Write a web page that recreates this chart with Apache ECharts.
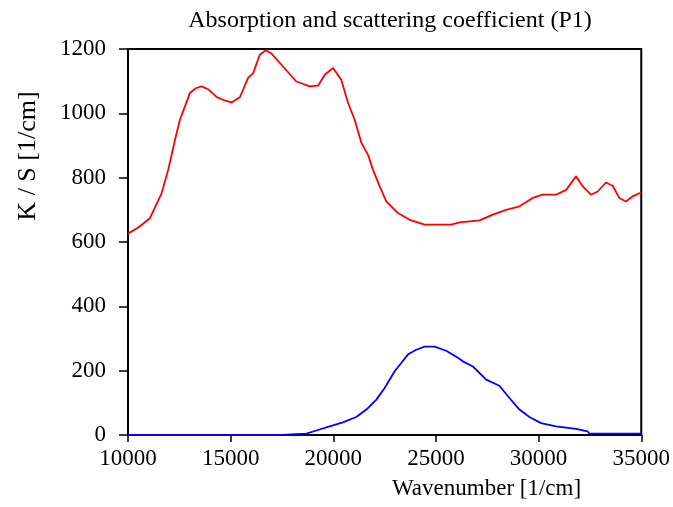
<!DOCTYPE html>
<html>
<head>
<meta charset="utf-8">
<script src="https://cdn.jsdelivr.net/npm/echarts@6/dist/echarts.min.js"></script>
<style>
html,body{margin:0;padding:0;background:#fff;}
#chart{width:673px;height:507px;}
</style>
</head>
<body>
<div id="chart"></div>
<script>
var titleText = 'Absorption and scattering coefficient (P1)';
var xAxisName = 'Wavenumber [1/cm]';
var yAxisName = 'K / S [1/cm]';
var xTicks = [10000, 15000, 20000, 25000, 30000, 35000];
var yTicks = [0, 200, 400, 600, 800, 1000, 1200];

// Scattering coefficient S (red)
var sWavenumber = [10000,10500,11070,11640,11960,12290,12530,12770,13015,13300,13580,13900,14310,14700,15040,15450,15850,16095,16420,16710,17000,17475,18200,18850,19260,19580,19990,20390,20720,21040,21370,21690,21930,22260,22580,23150,23720,24450,25740,26150,27120,27770,28420,29070,29710,30200,30850,31340,31820,32150,32550,32880,33280,33610,33930,34260,34580,35000];
var sValues = [626,645,674,752,825,918,980,1021,1063,1078,1084,1075,1051,1040,1034,1050,1110,1125,1182,1196,1185,1151,1099,1084,1086,1120,1141,1104,1032,980,908,871,825,773,726,690,669,654,654,661,667,685,700,711,737,747,747,762,804,773,747,757,785,775,737,726,742,754];

// Absorption coefficient K (blue)
var kWavenumber = [10000,17000,17470,17500,18690,19180,19820,20470,21120,21610,22100,22500,22990,23310,23630,24040,24450,24930,25500,26070,26310,26800,27450,28090,28580,29070,29550,30120,30850,31820,32390,32470,35000];
var kValues = [0,0,0,4,4,14,27,39,56,79,110,146,198,224,250,265,275,275,262,240,229,213,172,153,115,79,56,37,27,19,11,4,4];

function pairs(xs, ys){ return xs.map(function(x,i){ return [x, ys[i]]; }); }

var FONT = 'Liberation Serif';
var chart = echarts.init(document.getElementById('chart'), null, {renderer:'canvas'});
chart.setOption({
  animation:false,
  backgroundColor:'#fff',
  title:{text:titleText, left:385, top:4, textAlign:'center',
    textStyle:{fontFamily:FONT, fontSize:24, fontWeight:'normal', color:'#000'}},
  grid:{left:128, right:31, top:49, bottom:72, show:true, borderColor:'#000', borderWidth:2, backgroundColor:'transparent'},
  xAxis:{type:'value', min:xTicks[0], max:xTicks[xTicks.length-1], interval:5000,
    axisLine:{show:true, onZero:false, lineStyle:{color:'#000', width:2}},
    axisTick:{show:true, inside:false, length:7, lineStyle:{color:'#000', width:1.5}},
    splitLine:{show:false},
    axisLabel:{fontFamily:FONT, fontSize:23, color:'#000', margin:12,
      formatter:function(v){ return String(v); }}},
  yAxis:{type:'value', min:yTicks[0], max:yTicks[yTicks.length-1], interval:200,
    axisLine:{show:true, lineStyle:{color:'#000', width:2}},
    axisTick:{show:true, inside:false, length:9, lineStyle:{color:'#000', width:1.5}},
    splitLine:{show:false},
    axisLabel:{fontFamily:FONT, fontSize:23, color:'#000', margin:22,
      formatter:function(v){ return String(v); }}},
  graphic:[
    {type:'text', left:392, top:477, style:{text:xAxisName, font:'23px "Liberation Serif"', fill:'#000'}},
    {type:'text', x:28, y:156, rotation:Math.PI/2, style:{text:yAxisName, font:'26px "Liberation Serif"', fill:'#000', align:'center', verticalAlign:'middle'}}
  ],
  series:[
    {type:'line', data:pairs(sWavenumber, sValues), showSymbol:false, symbol:'none',
      lineStyle:{color:'#ff0000', width:1.8}, z:3},
    {type:'line', data:pairs(kWavenumber, kValues), showSymbol:false, symbol:'none',
      lineStyle:{color:'#0000ff', width:1.8}, z:3}
  ]
});
</script>
</body>
</html>
